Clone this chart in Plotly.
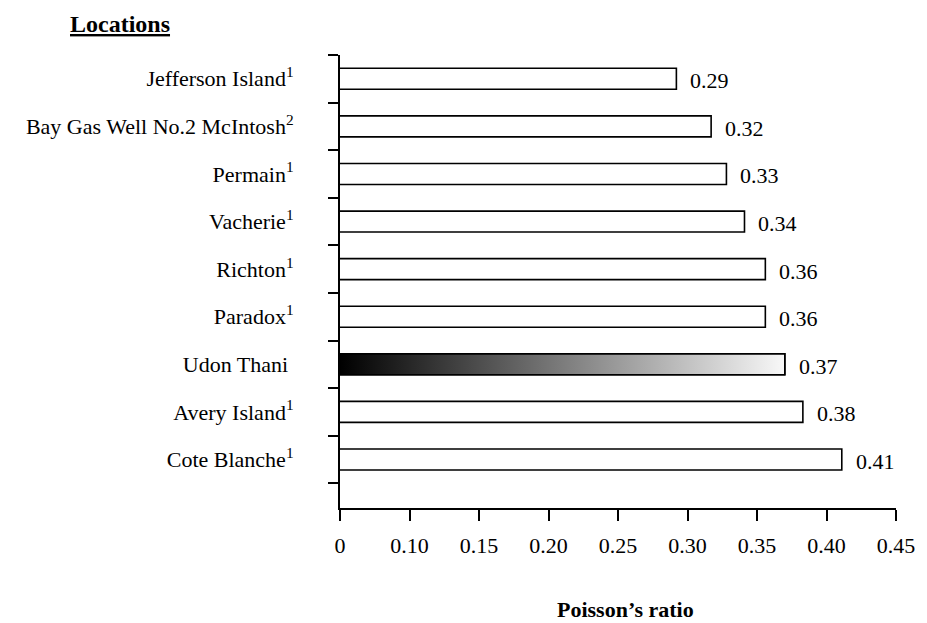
import plotly.graph_objects as go

# ---------------- data ----------------
LOCATIONS = [
    "Jefferson Island",
    "Bay Gas Well No.2 McIntosh",
    "Permain",
    "Vacherie",
    "Richton",
    "Paradox",
    "Udon Thani",
    "Avery Island",
    "Cote Blanche",
]
FOOTNOTES = ["1", "2", "1", "1", "1", "1", "", "1", "1"]
POISSON_RATIO = [0.292, 0.317, 0.328, 0.341, 0.356, 0.356, 0.370, 0.383, 0.411]
VALUE_LABELS = ["0.29", "0.32", "0.33", "0.34", "0.36", "0.36", "0.37", "0.38", "0.41"]
HIGHLIGHT = "Udon Thani"

X_TICK_VALUES = [0.05, 0.10, 0.15, 0.20, 0.25, 0.30, 0.35, 0.40, 0.45]
X_TICK_LABELS = ["0", "0.10", "0.15", "0.20", "0.25", "0.30", "0.35", "0.40", "0.45"]
X_RANGE = [0.05, 0.45]

Y_TITLE = "Locations"
X_TITLE = "Poisson\u2019s ratio"

# ---------------- style ----------------
FONT = "Liberation Serif"
FS = 22
BAR_W = 0.44

n = len(LOCATIONS)
pos = [n - 1 - i for i in range(n)]  # first location at the top
tick_text = [
    (f"{name}<sup>{fn}</sup>" if fn else name + "\u00a0")
    for name, fn in zip(LOCATIONS, FOOTNOTES)
]
boundaries = [p - 0.5 for p in sorted(pos)] + [max(pos) + 0.5]

fig = go.Figure()

bar_colors = ["white" if name != HIGHLIGHT else "rgba(0,0,0,0)" for name in LOCATIONS]
fig.add_trace(
    go.Bar(
        x=POISSON_RATIO,
        y=pos,
        orientation="h",
        width=BAR_W,
        marker=dict(color=bar_colors, line=dict(color="black", width=1.6)),
        hoverinfo="skip",
    )
)

# gradient-filled bar for the highlighted location
for name, v, p in zip(LOCATIONS, POISSON_RATIO, pos):
    if name == HIGHLIGHT:
        fig.add_trace(
            go.Scatter(
                x=[X_RANGE[0], v, v, X_RANGE[0], X_RANGE[0]],
                y=[p - BAR_W / 2, p - BAR_W / 2, p + BAR_W / 2, p + BAR_W / 2, p - BAR_W / 2],
                mode="lines",
                fill="toself",
                fillgradient=dict(
                    type="horizontal",
                    colorscale=[[0, "#000000"], [1, "#f8f8f8"]],
                ),
                line=dict(color="black", width=1.6),
                hoverinfo="skip",
            )
        )

annotations = []
for v, p, lab in zip(POISSON_RATIO, pos, VALUE_LABELS):
    annotations.append(
        dict(
            x=v, y=p, text=lab, xref="x", yref="y",
            xanchor="left", yanchor="middle", xshift=12, yshift=-2,
            showarrow=False, font=dict(family=FONT, size=FS, color="black"),
        )
    )

annotations.append(
    dict(
        x=(116 - 340) / 565, y=(508 - 24) / 453, xref="paper", yref="paper",
        text=f"<b>{Y_TITLE}</b>", showarrow=False, xanchor="center", yanchor="middle",
        font=dict(family=FONT, size=24, color="black", lineposition="under"),
    )
)
annotations.append(
    dict(
        x=(630 - 340) / 565, y=(508 - 609.5) / 453, xref="paper", yref="paper",
        text=f"<b>{X_TITLE}</b>", showarrow=False, xanchor="center", yanchor="middle",
        font=dict(family=FONT, size=FS, color="black"),
    )
)

fig.update_layout(
    width=927,
    height=623,
    autosize=False,
    margin=dict(l=340, r=22, t=55, b=115),
    plot_bgcolor="white",
    paper_bgcolor="white",
    showlegend=False,
    font=dict(family=FONT, size=FS, color="black"),
    annotations=annotations,
    xaxis=dict(
        range=X_RANGE,
        tickmode="array",
        tickvals=X_TICK_VALUES,
        ticktext=X_TICK_LABELS,
        ticks="outside",
        ticklen=11,
        tickwidth=2,
        tickcolor="black",
        showline=True,
        linewidth=2,
        linecolor="black",
        showgrid=False,
        zeroline=False,
        ticklabelstandoff=6,
        tickfont=dict(family=FONT, size=FS, color="black"),
        fixedrange=True,
    ),
    yaxis=dict(
        range=[-1.02, max(pos) + 0.5],
        tickmode="array",
        tickvals=pos,
        ticktext=tick_text,
        ticks="",
        showline=True,
        linewidth=2,
        linecolor="black",
        showgrid=False,
        zeroline=False,
        ticklabelstandoff=40,
        tickfont=dict(family=FONT, size=FS, color="black"),
        minor=dict(
            tickmode="array",
            tickvals=boundaries,
            ticks="outside",
            ticklen=10,
            tickwidth=2,
            tickcolor="black",
            showgrid=False,
        ),
        fixedrange=True,
    ),
)

fig.write_html(
    "out.html",
    config={"displayModeBar": False},
    post_script="document.body.style.margin='0';document.body.style.overflow='hidden';",
)
